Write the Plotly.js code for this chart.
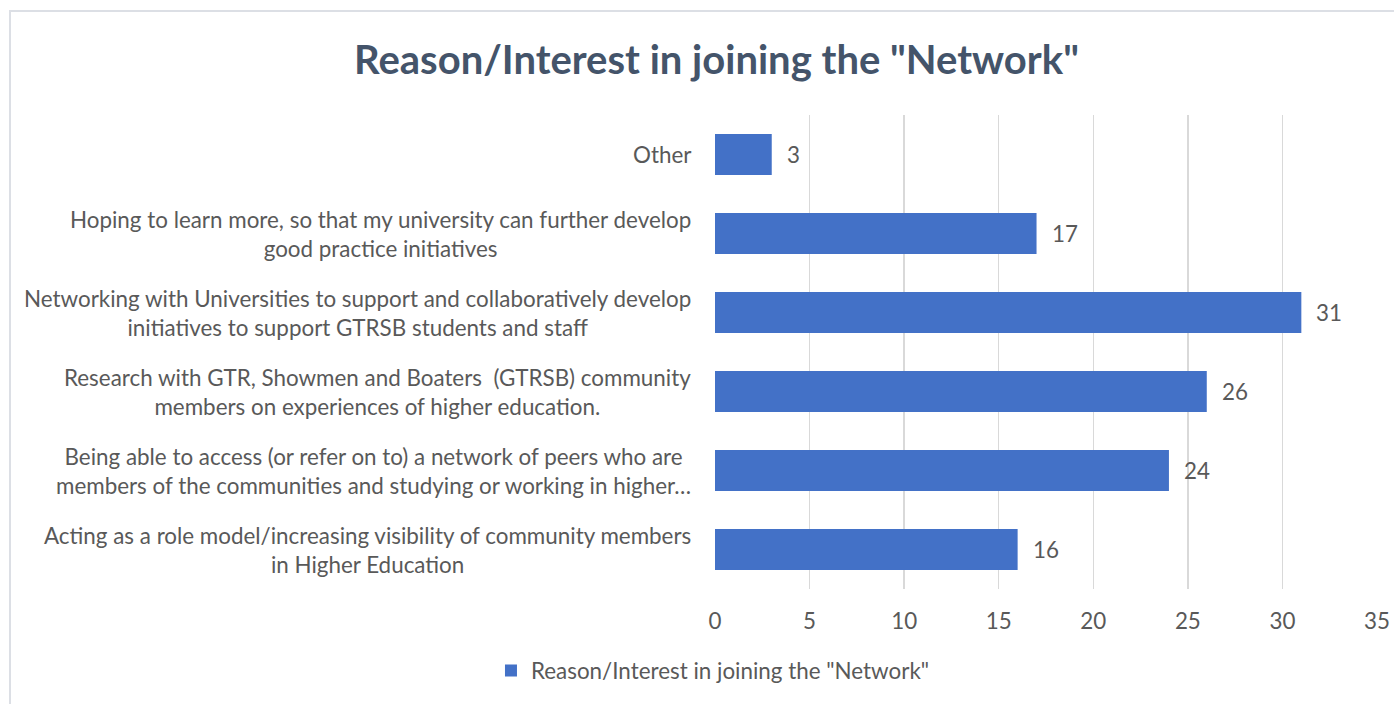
<!DOCTYPE html>
<html>
<head>
<meta charset="utf-8">
<script src="https://cdn.plot.ly/plotly-3.0.1.min.js"></script>
<style>
html,body{margin:0;padding:0;background:#fff;overflow:hidden;}
#chart{position:absolute;left:0;top:0;width:1394px;height:704px;}
#frame{position:absolute;left:9px;top:10px;width:1400px;height:700px;border:2px solid #DCDFE5;pointer-events:none;box-sizing:border-box;}
</style>
</head>
<body>
<div id="chart"></div>
<div id="frame"></div>
<script>
const categories = [
  "Acting as a role model/increasing visibility of community members<br>in Higher Education",
  "Being able to access (or refer on to) a network of peers who are<br>members of the communities and studying or working in higher…",
  "Research with GTR, Showmen and Boaters  (GTRSB) community<br>members on experiences of higher education.",
  "Networking with Universities to support and collaboratively develop<br>initiatives to support GTRSB students and staff",
  "Hoping to learn more, so that my university can further develop<br>good practice initiatives",
  "Other"
];
const values = [16, 24, 26, 31, 17, 3];
const seriesName = 'Reason/Interest in joining the "Network"';
const tickVals = [0, 5, 10, 15, 20, 25, 30, 35];

const font = "Lato, 'Open Sans', sans-serif";
const fs = 22.4;
const txtColor = '#595959';

const trace = {
  type: 'bar',
  orientation: 'h',
  x: values,
  y: categories,
  name: seriesName,
  marker: {color: '#4371C7'},
  showlegend: true
};

const annotations = [];
categories.forEach((c, i) => {
  annotations.push({
    xref: 'paper', yref: 'y', x: -0.0325, y: c, xanchor: 'right', yanchor: 'middle',
    align: 'center', text: c, showarrow: false,
    font: {family: font, size: fs, color: txtColor}
  });
  annotations.push({
    xref: 'x', yref: 'y', x: values[i], y: c, xanchor: 'left', yanchor: 'middle',
    xshift: 13, text: String(values[i]), showarrow: false,
    font: {family: font, size: fs, color: txtColor}
  });
});

const layout = {
  width: 1394, height: 704,
  margin: {l: 715, r: 17, t: 115, b: 115},
  paper_bgcolor: '#fff', plot_bgcolor: '#fff',
  bargap: 0.48,
  title: {text: '<b>Reason/Interest in joining the "Network"</b>', x: 0.514, xanchor: 'center', y: 0.915, yanchor: 'middle',
          font: {family: font, size: 40, color: '#44546A'}},
  xaxis: {range: [0, 35], tickvals: tickVals, showgrid: true, gridcolor: '#D9D9D9', gridwidth: 1.5,
          zeroline: false, showline: false, ticks: '', ticklabelstandoff: 17,
          tickfont: {family: font, size: fs, color: txtColor}, fixedrange: true},
  yaxis: {type: 'category', showgrid: false, zeroline: false, showline: false, ticks: '', showticklabels: false},
  legend: {orientation: 'h', x: -0.3384, xanchor: 'left', y: -0.173, yanchor: 'middle',
           font: {family: font, size: fs, color: txtColor}},
  annotations: annotations,
  showlegend: true
};
Plotly.newPlot('chart', [trace], layout, {displayModeBar: false, staticPlot: true});
</script>
</body>
</html>
